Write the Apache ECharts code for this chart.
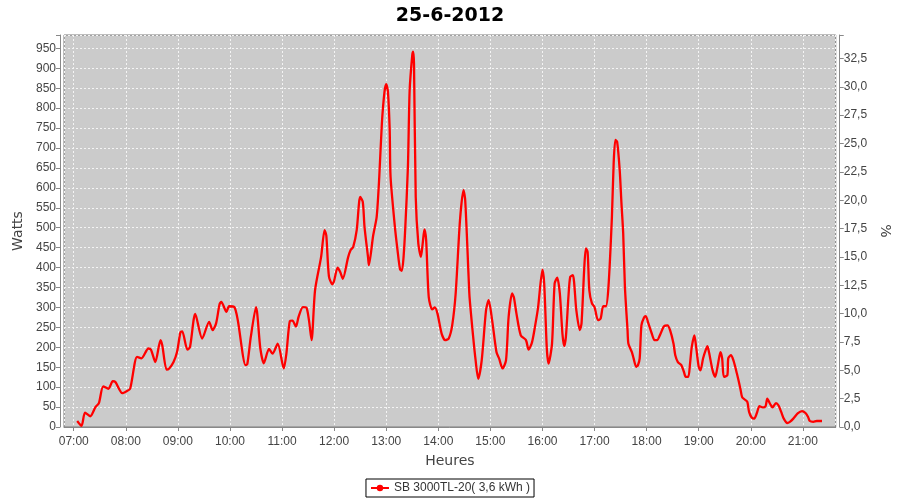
<!DOCTYPE html>
<html>
<head>
<meta charset="utf-8">
<script src="https://cdn.jsdelivr.net/npm/echarts@6/dist/echarts.min.js"></script>
<style>html,body{margin:0;padding:0;background:#fff;}#c{width:900px;height:500px;}</style>
</head>
<body>
<div id="c"></div>
<script>
const chartTitle = '25-6-2012';
const seriesName = 'SB 3000TL-20( 3,6 kWh )';
const dayDate = '2012-06-25';
// minutes after 07:00
const minutes = [4,9,13,19,25,29,34,40,45,48,56,61,65,73,78,86,89,94,100,102,107,110,115,119,123,125,131,134,140,148,156,160,164,168,170,176,179,185,189,198,200,204,210,215,219,225,229,235,242,245,249,252,256,259,264,268,271,274,278,285,289,291,294,298,300,304,307,310,316,319,322,326,330,333,335,339,340,345,349,352,355,358,360,362,364,365,370,373,376,378,380,382,385,387,390,391,392,394,397,400,402,404,406,409,413,416,419,424,428,432,436,440,445,449,451,455,456,460,463,466,470,475,478,482,487,490,494,498,501,505,507,510,515,521,524,528,532,535,540,542,545,547,551,554,557,560,563,565,567,570,572,575,579,583,585,588,590,592,594,597,600,604,607,610,613,616,620,622,624,626,629,631,633,635,638,639,643,645,648,650,652,654,657,659,662,666,669,672,676,680,684,687,691,693,696,700,703,705,708,710,712,715,717,720,722,725,728,730,732,736,739,742,745,747,749,753,754,757,760,764,768,770,773,776,778,781,784,787,790,794,797,799,802,805,809,812,815,818,822,825,829,834,839,843,846,848,852,856,862];
const watts = [15,3,36,27,50,60,102,96,115,113,85,90,96,176,172,197,194,163,218,205,144,147,163,188,238,240,194,201,284,222,264,243,260,308,314,289,303,301,268,155,158,226,301,197,160,196,184,209,147,184,266,267,252,276,301,300,268,218,343,427,494,480,378,358,367,400,389,372,425,444,452,494,577,565,502,427,406,481,527,628,762,841,860,841,745,628,502,444,395,392,427,502,653,845,933,942,912,577,460,427,460,496,469,326,295,300,285,233,218,222,255,335,519,594,569,372,326,230,167,121,167,293,318,268,188,172,147,167,276,335,326,285,230,218,194,213,260,301,395,360,197,159,209,360,375,335,234,203,226,330,377,381,293,243,260,393,448,439,343,310,301,268,272,303,303,351,527,661,720,716,644,561,486,351,243,209,188,172,151,155,172,255,275,278,260,234,218,218,234,253,255,243,209,180,163,155,138,126,126,159,201,230,201,151,142,172,193,203,186,142,126,155,188,172,126,130,172,180,167,134,96,75,69,63,38,24,21,35,52,49,52,71,59,49,60,54,38,21,10,13,21,34,40,35,25,15,13,15,15];
const leftTicks = [0,50,100,150,200,250,300,350,400,450,500,550,600,650,700,750,800,850,900,950];
const rightTicks = [0,2.5,5,7.5,10,12.5,15,17.5,20,22.5,25,27.5,30,32.5];

const base = new Date(dayDate + 'T07:00:00').getTime();
const pts = minutes.map((m, i) => [base + m * 60000, watts[i]]);
const xMin = base - 11.2 * 60000;
const xMax = base + 14.631 * 3600000;

const tickFont = {fontFamily: 'Liberation Sans', fontSize: 12, color: '#444'};
const nameFont = {fontFamily: 'DejaVu Sans', fontSize: 14, color: '#444'};

const chart = echarts.init(document.getElementById('c'), null, {renderer: 'canvas'});
chart.setOption({
  animation: false,
  backgroundColor: '#ffffff',
  title: {
    text: chartTitle, left: 'center', top: 2,
    textStyle: {fontFamily: 'DejaVu Sans', fontSize: 19, fontWeight: 'bold', color: '#000'}
  },
  legend: {
    data: [seriesName], bottom: 3, left: 'center',
    borderColor: '#000', borderWidth: 1, padding: [3, 4, 3, 4],
    itemWidth: 18, itemHeight: 8, itemGap: 2,
    textStyle: {fontFamily: 'Liberation Sans', fontSize: 12, color: '#333'}
  },
  grid: {
    left: 64, right: 63, top: 35, bottom: 73,
    show: true, backgroundColor: '#cbcbcb', borderColor: '#7a7a7a', borderWidth: 1
  },
  xAxis: {
    type: 'time', min: xMin, max: xMax,
    minInterval: 3600000, maxInterval: 3600000,
    offset: 5,
    name: 'Heures', nameLocation: 'middle', nameGap: 22, nameTextStyle: nameFont,
    axisLine: {show: true, lineStyle: {color: '#888'}},
    axisTick: {show: true, length: 4, lineStyle: {color: '#888'}},
    axisLabel: Object.assign({formatter: '{HH}:{mm}', margin: 4, showMinLabel: false, showMaxLabel: false, hideOverlap: false}, tickFont),
    splitLine: {show: true, lineStyle: {color: '#f4f4f4', type: [2, 2], width: 1}}
  },
  yAxis: [{
    type: 'value', min: 0, max: 983.5, interval: 50, offset: 4,
    name: 'Watts', nameLocation: 'middle', nameGap: 26, nameTextStyle: nameFont,
    axisLine: {show: true, lineStyle: {color: '#888'}},
    axisTick: {show: true, length: 4, lineStyle: {color: '#888'}},
    axisLabel: Object.assign({margin: 4, formatter: v => leftTicks.includes(v) ? String(v) : ''}, tickFont),
    splitLine: {show: true, lineStyle: {color: '#f4f4f4', type: [2, 2], width: 1}}
  }, {
    type: 'value', min: 0, max: 34.57, interval: 2.5, offset: 4, position: 'right',
    name: '%', nameLocation: 'middle', nameGap: 32, nameRotate: -90, nameTextStyle: nameFont,
    axisLine: {show: true, lineStyle: {color: '#888'}},
    axisTick: {show: true, length: 4, lineStyle: {color: '#888'}},
    axisLabel: Object.assign({margin: 4, formatter: v => rightTicks.includes(v) ? v.toFixed(1).replace('.', ',') : ''}, tickFont),
    splitLine: {show: false}
  }],
  series: [{
    name: seriesName, type: 'line', yAxisIndex: 0,
    data: pts, smooth: 0.25, showSymbol: false, symbol: 'circle', symbolSize: 4,
    lineStyle: {color: '#ff0000', width: 2.3}, itemStyle: {color: '#ff0000'}
  }]
});
</script>
</body>
</html>
